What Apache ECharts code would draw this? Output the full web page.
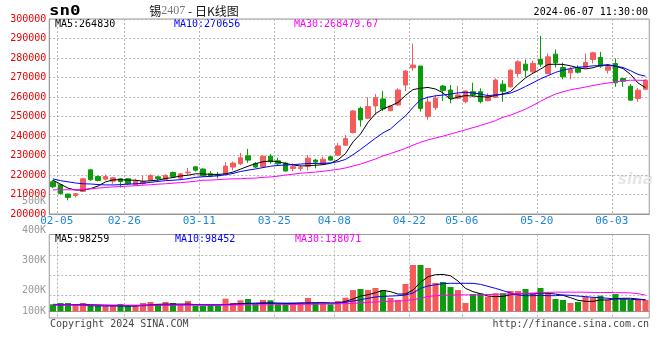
<!DOCTYPE html>
<html><head><meta charset="utf-8">
<script src="https://cdn.jsdelivr.net/npm/echarts/dist/echarts.min.js"></script>
<style>html,body{margin:0;padding:0;background:#fff}#c{width:660px;height:360px}</style>
</head><body><div id="c"></div>
<script>
const dates = ['2024-02-02','2024-02-05','2024-02-06','2024-02-07','2024-02-08','2024-02-19','2024-02-20','2024-02-21','2024-02-22','2024-02-23','2024-02-26','2024-02-27','2024-02-28','2024-02-29',
'2024-03-01','2024-03-04','2024-03-05','2024-03-06','2024-03-07','2024-03-08','2024-03-11','2024-03-12','2024-03-13','2024-03-14','2024-03-15','2024-03-18','2024-03-19','2024-03-20','2024-03-21','2024-03-22','2024-03-25','2024-03-26','2024-03-27','2024-03-28','2024-03-29',
'2024-04-01','2024-04-02','2024-04-03','2024-04-08','2024-04-09','2024-04-10','2024-04-11','2024-04-12','2024-04-15','2024-04-16','2024-04-17','2024-04-18','2024-04-19','2024-04-22','2024-04-23','2024-04-24','2024-04-25','2024-04-26','2024-04-29','2024-04-30',
'2024-05-06','2024-05-07','2024-05-08','2024-05-09','2024-05-10','2024-05-13','2024-05-14','2024-05-15','2024-05-16','2024-05-17','2024-05-20','2024-05-21','2024-05-22','2024-05-23','2024-05-24','2024-05-27','2024-05-28','2024-05-29','2024-05-30','2024-05-31',
'2024-06-03','2024-06-04','2024-06-05','2024-06-06','2024-06-07'];
const labelDates = ['02-05','02-26','03-11','03-25','04-08','04-22','05-06','05-20','06-03'];
const openP = [216510,214980,210220,209530,211580,222640,219240,217870,216850,218050,218050,214980,215660,217190,219070,217700,221280,218390,221110,224170,
223050,220680,220000,220340,224070,225760,229830,225930,224240,229660,227290,226100,223390,223390,224410,227630,225590,229320,230170,235250,
241780,254220,249100,255410,258990,253030,255920,266140,275000,275860,249950,254560,265630,263590,259330,257620,262740,262740,258130,259840,
266570,265200,272040,276830,272900,279230,272040,281960,275130,272380,274780,275130,279230,280250,273750,277180,269480,265540,259220,264020];
const closeP = [213960,210560,208510,210390,218050,217530,217190,219240,218560,216680,215490,216850,216510,219750,218220,219750,219240,220600,221450,222470,
219660,219490,219660,224580,226100,228810,227630,224070,229660,226780,225760,222030,224240,223730,228640,226610,228140,227630,234920,238640,
252850,248250,255070,259670,253880,255410,263590,273300,276370,254050,257450,259330,263420,259330,261030,263080,261030,257620,260180,268700,
262980,273750,278030,273750,277180,276830,280600,277520,270330,274100,272720,277690,282650,275810,275470,267260,268110,258360,263500,268630];
const lowP = [213280,209870,206980,208510,211240,217020,216680,217190,215490,213620,214980,214640,214980,216850,217190,217360,218730,217360,220090,221790,
219150,218810,218300,220000,222370,225080,226270,223560,223730,225760,225080,221860,222030,222030,222370,223390,225420,227290,229660,235080,
241300,244840,248760,250810,252850,252700,255580,263080,273470,252510,248420,253370,257960,256770,258990,256770,260180,256770,257790,259670,
257510,264860,270330,270330,272380,275470,271700,275130,269140,269140,272040,274610,277180,274950,272040,265200,265200,258360,257510,263500];
const highP = [217530,215320,210390,210560,218560,223150,219750,220260,218900,218220,218390,218050,219750,220430,219410,220430,221790,220940,223660,224510,
223390,222030,221530,226610,226950,231360,233390,226610,230170,230680,228810,226780,225930,225080,230170,228300,229320,229830,236440,240500,
253300,255070,259840,261540,263080,255580,264440,273810,287440,275860,260180,261030,266140,266140,265630,263250,267340,264440,261880,269550,
268630,274270,278890,279230,278550,291370,282300,284360,277690,275470,276320,282300,283160,283160,276320,279740,269820,266570,264700,269140];
const ma5 = [217360,215320,213280,212260,212290,213000,214330,216480,217500,217600,217400,217300,216800,217000,217400,218200,218700,219500,219900,220600,
220600,220300,220300,220600,221500,223000,224500,225800,226800,227200,226800,225900,225200,224600,224800,225000,225300,226000,227800,231000,
237000,241000,247000,251500,253900,255400,257200,260800,263800,264500,264900,264100,262100,258800,260000,260700,260500,260200,259900,260800,
261600,262800,266500,269800,272200,274300,276700,276800,276700,276000,275000,274400,275000,276200,276600,275800,274600,271600,267200,264830];
const ma10 = [218000,217100,216500,215900,215500,215400,215100,214900,214900,215070,215300,215500,215800,216200,216700,217100,217300,217600,218100,218800,
219100,219300,219600,220100,220800,221800,222500,223100,223800,224500,224900,225100,225300,225600,225900,225900,226000,226200,226800,228000,
230400,233100,236000,238900,241600,243600,247100,250300,254700,258600,259900,260600,261000,261500,262100,262400,262100,261500,260700,261100,
261400,262000,263500,265400,267300,269300,271000,272600,273800,274600,275300,275500,276000,276100,276100,275900,275100,273500,271600,270656];
const ma30 = [212400,212400,212400,212400,212600,212900,213300,213600,213900,214100,214300,214500,214800,215000,215300,215500,215800,216100,216400,216800,
217300,217400,217600,217900,218000,218100,218300,218400,218800,219000,219400,220000,220400,220900,221200,221500,221900,222400,222900,223600,
224600,225600,226900,228200,229800,231000,232300,233700,235300,236800,238000,239000,239900,241000,242100,243200,244300,245400,246600,247900,
249600,250700,252200,253800,255700,257800,259800,261500,262700,263700,264400,265100,265900,266600,267200,267800,268300,268600,268600,268480];
const vol = [60,71,71,60,71,54,54,46,46,63,54,46,71,80,63,80,71,54,88,49,
46,49,46,108,71,94,105,63,97,94,63,71,71,74,114,71,66,60,88,116,
181,190,181,198,181,114,97,232,393,393,368,241,249,207,181,71,147,153,125,153,
153,173,173,190,153,198,153,105,97,71,80,125,116,133,97,147,105,97,97,97];
const vma5 = [54,54,56,58,60,58,55,52,50,48,47,47,52,56,60,62,62,62,62,58,
55,52,52,58,62,66,68,70,72,72,70,68,68,70,72,74,74,72,71,85,
105,130,141,158,178,167,147,147,181,246,294,311,313,302,257,195,167,150,130,125,
127,141,150,150,147,156,153,147,136,116,94,85,85,97,97,108,111,111,105,98.259];
const vma10 = [60,58,57,55,52,48,47,46,46,46,46,47,48,50,52,54,55,56,56,56,
57,58,57,58,60,62,64,66,67,68,68,69,70,70,70,70,70,68,71,77,
88,99,111,122,127,130,133,139,156,195,215,226,235,238,238,238,238,229,212,195,
176,156,139,133,133,136,133,133,139,136,130,125,119,116,111,105,105,102,99,98.452];
const vma30 = [54,54,54,54,54,54,54,54,54,54,53,53,53,53,53,53,53,53,53,53,
53,53,53,53,53,55,55,55,55,55,55,58,59,60,60,61,62,63,64,66,
68,72,76,80,83,86,88,91,99,111,127,133,136,139,140,140,140,141,143,145,
147,148,150,152,156,158,161,163,163,163,163,162,161,160,160,159,158,157,150,138.071];

const RED = '#f65b5b', GREEN = '#0b9b0b';
const MONO = '"DejaVu Sans Mono", "Liberation Mono", monospace';
const labelIdx = dates.map((d, i) => labelDates.includes(d.slice(5)) ? i : -1).filter(i => i >= 0);
const showIdx = (i) => labelIdx.includes(i);
const candle = dates.map((d, i) => [openP[i], closeP[i], lowP[i], highP[i]]);
const volData = vol.map((v, i) => ({ value: v, itemStyle: { color: closeP[i] >= openP[i] ? RED : GREEN } }));
const GL = 49.25, GW = 600;
const dot = { color: '#b4b4b4', type: [2, 2], width: 1 };

const chart = echarts.init(document.getElementById('c'), null, { renderer: 'canvas' });
const txt = (x, y, text, fill, extra) => Object.assign({ type: 'text', x: x, y: y, silent: true,
  style: Object.assign({ text: text, fill: fill, font: '10px ' + MONO, verticalAlign: 'middle' }, extra || {}) });

chart.setOption({
  animation: false,
  backgroundColor: '#fff',
  grid: [
    { left: GL, width: GW, top: 19, height: 195, show: true, borderColor: '#999', borderWidth: 1 },
    { left: GL, width: GW, top: 234.5, height: 83.5, show: true, borderColor: '#999', borderWidth: 1 },
    { left: GL, width: GW, top: 235.7, height: 80 }
  ],
  xAxis: [
    { type: 'category', gridIndex: 0, data: dates, boundaryGap: true,
      axisLine: { show: true, lineStyle: { color: '#999' } }, axisTick: { show: false },
      axisLabel: { interval: (i) => showIdx(i), formatter: (v) => v.slice(5), color: '#1a86d8',
        fontFamily: MONO, fontSize: 11, margin: 2, padding: [0, 7.5, 0, 0] },
      splitLine: { show: true, interval: (i) => showIdx(i), lineStyle: dot } },
    { type: 'category', gridIndex: 1, data: dates, boundaryGap: true,
      axisLine: { show: true, lineStyle: { color: '#999' } }, axisTick: { show: false }, axisLabel: { show: false },
      splitLine: { show: true, interval: (i) => showIdx(i), lineStyle: dot } },
    { type: 'value', gridIndex: 2, show: false, min: 0, max: 1 }
  ],
  yAxis: [
    { type: 'value', gridIndex: 0, min: 200000, max: 300000, interval: 10000,
      axisLine: { show: true, lineStyle: { color: '#999' } }, axisTick: { show: false },
      axisLabel: { color: '#f00000', fontFamily: MONO, fontSize: 10, margin: 3, padding: [0, 0, 4, 0], showMaxLabel: true,
        formatter: (v) => String(v) },
      splitLine: { show: true, lineStyle: dot } },
    { type: 'value', gridIndex: 1, min: -55.9, max: 651.3, show: false, splitLine: { show: false } },
    { type: 'value', gridIndex: 2, min: 0, max: 4, interval: 1, axisLine: { show: false }, axisLabel: { show: false },
      axisTick: { show: false }, splitLine: { show: true, showMinLine: false, showMaxLine: false, lineStyle: dot } }
  ],
  series: [
    { type: 'candlestick', xAxisIndex: 0, yAxisIndex: 0, data: candle, barWidth: 5,
      itemStyle: { color: RED, color0: GREEN, borderColor: RED, borderColor0: GREEN, borderWidth: 1 } },
    { type: 'line', xAxisIndex: 0, yAxisIndex: 0, data: ma5, showSymbol: false, lineStyle: { color: '#000', width: 1 } },
    { type: 'line', xAxisIndex: 0, yAxisIndex: 0, data: ma10, showSymbol: false, lineStyle: { color: '#0000ff', width: 1 } },
    { type: 'line', xAxisIndex: 0, yAxisIndex: 0, data: ma30, showSymbol: false, lineStyle: { color: '#ff00ff', width: 1 } },
    { type: 'bar', xAxisIndex: 1, yAxisIndex: 1, data: volData, barWidth: 6 },
    { type: 'line', xAxisIndex: 1, yAxisIndex: 1, data: vma5, showSymbol: false, lineStyle: { color: '#000', width: 1 } },
    { type: 'line', xAxisIndex: 1, yAxisIndex: 1, data: vma10, showSymbol: false, lineStyle: { color: '#0000ff', width: 1 } },
    { type: 'line', xAxisIndex: 1, yAxisIndex: 1, data: vma30, showSymbol: false, lineStyle: { color: '#ff00ff', width: 1 } }
  ],
  graphic: [
    Object.assign(txt(49, 11, 'sn0', '#000', { font: 'bold 14px ' + MONO }), { scaleX: 1.25 }),
    { type: 'text', x: 194, y: 11, silent: true, style: { text: '{a|锡}{b|2407}{a| - 日K线图}', align: 'center', verticalAlign: 'middle',
      rich: { a: { fontFamily: '"Noto Sans CJK SC"', fontSize: 12, fill: '#111' }, b: { fontFamily: '"Liberation Serif", serif', fontSize: 12, fill: '#777' } } } },
    txt(648, 12, '2024-06-07 11:30:00', '#000', { align: 'right' }),
    txt(55, 24, 'MA5:264830', '#000'),
    txt(174, 24, 'MA10:270656', '#0000ff'),
    txt(294, 24, 'MA30:268479.67', '#ff00ff'),
    txt(55, 239, 'MA5:98259', '#000'),
    txt(175, 239, 'MA10:98452', '#0000ff'),
    txt(295, 239, 'MA30:138071', '#ff00ff'),
    txt(46, 201, '500K', '#999', { align: 'right' }),
    txt(46, 230, '400K', '#999', { align: 'right' }),
    txt(46, 260, '300K', '#999', { align: 'right' }),
    txt(46, 290, '200K', '#999', { align: 'right' }),
    txt(46, 311, '100K', '#999', { align: 'right' }),
    txt(50, 324, 'Copyright 2024 SINA.COM', '#444'),
    txt(649, 324, 'http://finance.sina.com.cn', '#444', { align: 'right' }),
    txt(618, 180, 'sina', '#e6e6e6', { font: 'italic bold 15px "DejaVu Sans"' })
  ]
});
</script></body></html>
